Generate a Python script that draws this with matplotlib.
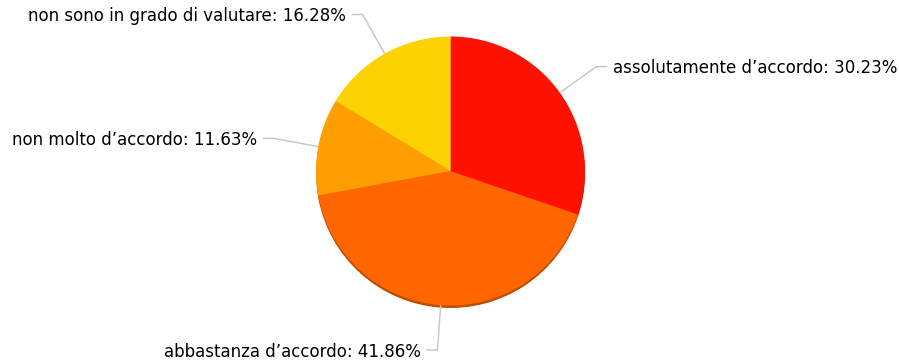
import numpy as np
import matplotlib
matplotlib.use("Agg")
import matplotlib.pyplot as plt
from matplotlib.colors import to_rgb

labels = ["assolutamente d\u2019accordo", "abbastanza d\u2019accordo",
          "non molto d\u2019accordo", "non sono in grado di valutare"]
values = [30.23, 41.86, 11.63, 16.28]
colors = ["#FF1100", "#FF6600", "#FF9E01", "#FCD202"]

W, H = 899, 362
fig = plt.figure(figsize=(W / 100, H / 100), dpi=100)
ax = fig.add_axes([0, 0, 1, 1])

cx, cy = 450.5, H - 171.0
r = 134.5

# subtle shadow (darker copy shifted down)
dark = [tuple(c * 0.75 for c in to_rgb(col)) for col in colors]
ax.pie(values, colors=dark, startangle=90, counterclock=False,
       center=(cx, cy - 2.5), radius=r, wedgeprops=dict(linewidth=0))
ax.pie(values, colors=colors, startangle=90, counterclock=False,
       center=(cx, cy), radius=r, wedgeprops=dict(linewidth=0))

ax.set_xlim(0, W)
ax.set_ylim(0, H)
ax.set_aspect("equal")
ax.axis("off")

total = sum(values)
cum = 0.0
ext = 45
for lab, v in zip(labels, values):
    mid = (cum + v / 2) / total * 360.0  # clockwise from top
    cum += v
    a = np.deg2rad(mid)
    dx, dy = np.sin(a), np.cos(a)
    ex, ey = cx + r * dx, cy + r * dy
    kx, ky = cx + (r + ext) * dx, cy + (r + ext) * dy
    side = 1 if dx >= 0 else -1
    hx = kx + side * 11
    ax.plot([ex, kx, hx], [ey, ky, ky], color="#C4C4C4", lw=1.0,
            solid_capstyle="butt", zorder=1)
    pct = v / total * 100
    ax.text(hx + side * 6, ky - 1.5, f"{lab}: {pct:.2f}%",
            ha="left" if side > 0 else "right", va="center",
            fontsize=12, color="#000000", family="DejaVu Sans")

fig.savefig("out.png", dpi=100)
